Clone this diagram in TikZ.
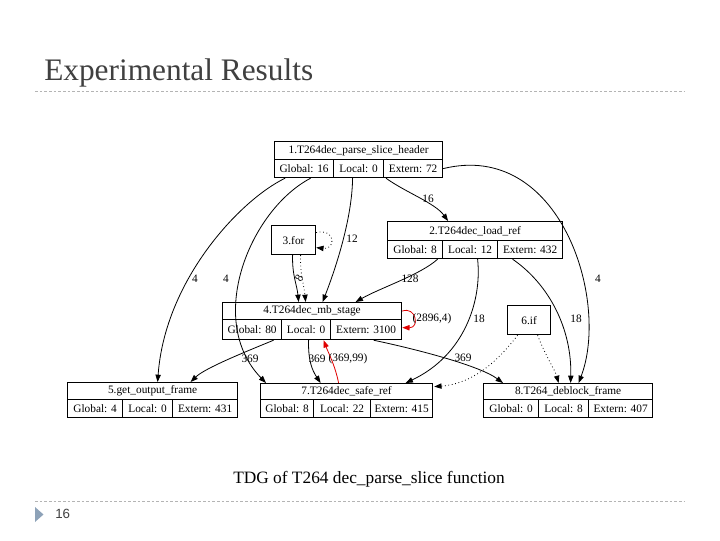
\documentclass[tikz,border=0pt]{standalone}
\usepackage{fontspec}
\setmainfont{Liberation Serif}
\setsansfont{Liberation Sans}
\usetikzlibrary{arrows.meta,calc}
\definecolor{titlegray}{HTML}{404040}
\definecolor{rulegray}{HTML}{B4B4B4}
\definecolor{bulletblue}{HTML}{8DA2B8}
\definecolor{edgered}{HTML}{E00000}
\newcommand\recbox[6]{\node[rec, minimum width=#4*0.75pt, minimum height=#5*0.75pt] (#1) at (#2,#3) {#6};}
\begin{document}
\begin{tikzpicture}[x=0.75pt,y=-0.75pt,
  rec/.style={draw, line width=0.9pt, inner sep=0pt, anchor=north west, font=\fontsize{8.5}{9}\selectfont},
  lbl/.style={inner sep=0pt, font=\fontsize{8.5}{9}\selectfont},
  conn/.style={line width=0.6pt, -{Triangle[length=5.5pt,width=4pt]}},
  dconn/.style={conn, dotted},
  rconn/.style={conn, edgered},
  rulestyle/.style={rulegray, line width=0.6pt, dash pattern=on 2pt off 1.5pt}]
\useasboundingbox (0,0) rectangle (720,540);
% title and rules
\node[anchor=base west, inner sep=0pt, text=titlegray, font=\fontsize{23.5}{26}\selectfont] (title) at (44,80) {Experimental Results};
\coordinate (r1a) at (35,91); \coordinate (r1b) at (685,91);
\draw[rulestyle] (r1a) -- (r1b);
\coordinate (r2a) at (35,501); \coordinate (r2b) at (685,501);
\draw[rulestyle] (r2a) -- (r2b);
\node[anchor=base, inner sep=0pt, font=\fontsize{13}{15}\selectfont] (caption) at (369,483) {TDG of T264 dec\_parse\_slice function};
\fill[bulletblue] (35,507) -- (43.5,514.5) -- (35,522) -- cycle;
\node[anchor=west, inner sep=0pt, text=titlegray, font=\sffamily\fontsize{10}{12}\selectfont] (pagenum) at (55,514) {16};
% node 1
\recbox{n1h}{274}{141}{168}{18}{1.T264dec\_parse\_slice\_header}
\recbox{n1g}{274}{159}{59}{18}{Global: 16}
\recbox{n1l}{333}{159}{50}{18}{Local: 0}
\recbox{n1e}{383}{159}{59}{18}{Extern: 72}
% node 2
\recbox{n2h}{387}{221}{175}{19}{2.T264dec\_load\_ref}
\recbox{n2g}{387}{240}{55}{18}{Global: 8}
\recbox{n2l}{442}{240}{55}{18}{Local: 12}
\recbox{n2e}{497}{240}{65}{18}{Extern: 432}
% node 3
\recbox{n3}{271}{225}{44}{29}{3.for}
% node 4
\recbox{n4h}{222}{302}{179}{17}{4.T264dec\_mb\_stage}
\recbox{n4g}{222}{319}{59}{20}{Global: 80}
\recbox{n4l}{281}{319}{49}{20}{Local: 0}
\recbox{n4e}{330}{319}{71}{20}{Extern: 3100}
% node 5
\recbox{n5h}{67}{382}{170}{17}{5.get\_output\_frame}
\recbox{n5g}{67}{399}{55}{18}{Global: 4}
\recbox{n5l}{122}{399}{50}{18}{Local: 0}
\recbox{n5e}{172}{399}{65}{18}{Extern: 431}
% node 6
\recbox{n6}{507}{305}{43}{29}{6.if}
% node 7
\recbox{n7h}{260}{383}{172}{16}{7.T264dec\_safe\_ref}
\recbox{n7g}{260}{399}{53}{18}{Global: 8}
\recbox{n7l}{313}{399}{57}{18}{Local: 22}
\recbox{n7e}{370}{399}{62}{18}{Extern: 415}
% node 8
\recbox{n8h}{483}{383}{169}{16}{8.T264\_deblock\_frame}
\recbox{n8g}{483}{399}{55}{18}{Global: 0}
\recbox{n8l}{538}{399}{50}{18}{Local: 8}
\recbox{n8e}{588}{399}{64}{18}{Extern: 407}
% connectors
\draw[conn] ($(n1g.south)+(-19,0)$) .. controls (240,200) and (165,280) .. ($(n5h.north)+(5,0)$);
\draw[conn] ($(n1g.south)+(6.5,0)$) .. controls (250,210) and (205,320) .. ($(n7h.north west)+(6,0)$);
\draw[conn] ($(n1l.south)+(-6,0)$) .. controls (352,220) and (335,270) .. ($(n4h.north)+(10.5,0)$);
\draw[conn] ($(n1e.south west)+(3,0)$) .. controls (405,192) and (435,203) .. ($(n2h.north)+(-27,0)$);
\draw[conn] (n1e.east) .. controls (560,140) and (610,300) .. ($(n8h.north)+(10.5,0)$);
\draw[conn] ($(n2g.south)+(22.5,0)$) .. controls (420,275) and (380,288) .. ($(n4h.north)+(43.5,0)$);
\draw[conn] ($(n2l.south)+(7.5,0)$) .. controls (482,300) and (465,355) .. ($(n7h.north)+(59,0)$);
\draw[conn] ($(n2e.south)+(-17.5,0)$) .. controls (550,285) and (572,330) .. ($(n8h.north)+(2.5,0)$);
\draw[conn] ($(n3.south)+(-1,0)$) .. controls (292,275) and (297,285) .. ($(n4h.north)+(-13.5,0)$);
\draw[dconn] ($(n3.south)+(7,0)$) .. controls (300,275) and (304,285) .. ($(n4h.north)+(-6.5,0)$);
\draw[dconn] ($(n3.east)+(0,-7.5)$) .. controls (336,228) and (336,250) .. ($(n3.east)+(0,7.5)$);
\draw[rconn] (n4h.east) .. controls (416,306) and (420,328) .. ($(n4e.east)+(0,-2)$);
\draw[conn] ($(n4g.south)+(21.5,0)$) .. controls (245,352) and (205,368) .. ($(n5h.north)+(38,0)$);
\draw[conn] ($(n4l.south)+(2.5,0)$) .. controls (308,360) and (312,370) .. ($(n7h.north)+(-26,0)$);
\draw[rconn] ($(n7h.north)+(-8,0)$) .. controls (335,365) and (328,352) .. ($(n4l.south)+(17.5,0)$);
\draw[conn] ($(n4e.south)+(7.5,0)$) .. controls (420,350) and (480,366) .. ($(n8h.north west)+(20,0)$);
\draw[dconn] ($(n6.south)+(-11.5,0)$) .. controls (495,365) and (470,384) .. ($(n7h.east)+(1,-5)$);
\draw[dconn] ($(n6.south)+(8.5,0)$) .. controls (545,355) and (555,370) .. ($(n8h.north)+(-9.5,0)$);
% connector labels
\node[lbl] (la) at (195,279) {4};
\node[lbl] (lb) at (226,279) {4};
\node[lbl] (lc) at (352,239) {12};
\node[lbl] (ld) at (428,199) {16};
\node[lbl] (le) at (598,279) {4};
\node[lbl] (lf) at (410,279) {128};
\node[lbl, rotate=60] (lg) at (299,278) {8};
\node[lbl] (lh) at (432,319) {(2896,4)};
\node[lbl] (li) at (479,319) {18};
\node[lbl] (lj) at (576,319) {18};
\node[lbl] (lk) at (250,359) {369};
\node[lbl] (ll) at (317,359) {369};
\node[lbl] (lm) at (348,359) {(369,99)};
\node[lbl] (ln) at (463,358) {369};
\end{tikzpicture}
\end{document}
